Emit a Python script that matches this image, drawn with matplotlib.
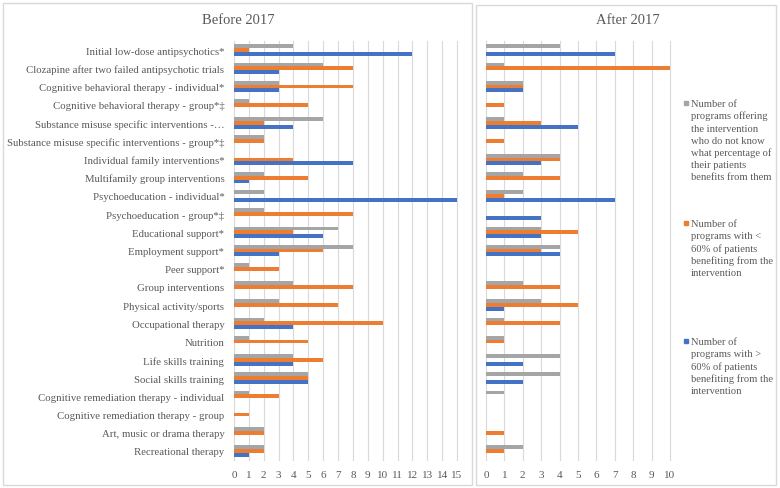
import matplotlib
matplotlib.use("Agg")
import matplotlib.pyplot as plt
from matplotlib.patches import Rectangle
import numpy as np

categories = [
    "Initial low-dose antipsychotics*",
    "Clozapine after two failed antipsychotic trials",
    "Cognitive behavioral therapy - individual*",
    "Cognitive behavioral therapy - group*\u2021",
    "Substance misuse specific interventions -\u2026",
    "Substance misuse specific interventions - group*\u2021",
    "Individual family interventions*",
    "Multifamily group interventions",
    "Psychoeducation - individual*",
    "Psychoeducation - group*\u2021",
    "Educational support*",
    "Employment support*",
    "Peer support*",
    "Group interventions",
    "Physical activity/sports",
    "Occupational therapy",
    "Nutrition",
    "Life skills training",
    "Social skills training",
    "Cognitive remediation therapy - individual",
    "Cognitive remediation therapy - group",
    "Art, music or drama therapy",
    "Recreational therapy",
]

# Before 2017
before_unknown = [4, 6, 3, 1, 6, 2, 0, 2, 2, 2, 7, 8, 1, 4, 3, 2, 1, 4, 5, 1, 0, 2, 2]
before_low     = [1, 8, 8, 5, 2, 2, 4, 5, 0, 8, 4, 6, 3, 8, 7, 10, 5, 6, 5, 3, 1, 2, 2]
before_high    = [12, 3, 3, 0, 4, 0, 8, 1, 15, 0, 6, 3, 0, 0, 0, 4, 0, 4, 5, 0, 0, 0, 1]

# After 2017
after_unknown = [4, 1, 2, 0, 1, 0, 4, 2, 2, 0, 3, 4, 0, 2, 3, 1, 1, 4, 4, 1, 0, 0, 2]
after_low     = [0, 10, 2, 1, 3, 1, 4, 4, 1, 0, 5, 3, 0, 4, 5, 4, 1, 0, 0, 0, 0, 1, 1]
after_high    = [7, 0, 2, 0, 5, 0, 3, 0, 7, 3, 3, 4, 0, 0, 1, 0, 0, 2, 2, 0, 0, 0, 0]

before_ticks = list(range(0, 16))
after_ticks = list(range(0, 11))

panel_titles = ["Before 2017", "After 2017"]
legend_labels = [
    "Number of\nprograms offering\nthe intervention\nwho do not know\nwhat percentage of\ntheir patients\nbenefits from them",
    "Number of\nprograms with <\n60% of patients\nbenefiting from the\nintervention",
    "Number of\nprograms with >\n60% of patients\nbenefiting from the\nintervention",
]

GRAY = "#A5A5A5"
ORANGE = "#ED7D31"
BLUE = "#4472C4"
TXT = "#595959"
GRID = "#D9D9D9"

plt.rcParams["font.family"] = ["Liberation Serif", "DejaVu Serif"]

W, H = 780, 489
fig = plt.figure(figsize=(W / 100, H / 100), dpi=100)

def fx(px):
    return px / W

def fy(py):
    return 1 - py / H

top_px, bot_px = 42, 461
axL = fig.add_axes([fx(234), fy(bot_px), fx(457 - 234), (bot_px - top_px) / H])
axR = fig.add_axes([fx(486), fy(bot_px), fx(670 - 486), (bot_px - top_px) / H])

y = np.arange(len(categories))
h = 0.21

def draw(ax, unk, low, high, ticks):
    ax.barh(y - h, unk, height=h, color=GRAY, zorder=3)
    ax.barh(y, low, height=h, color=ORANGE, zorder=3)
    ax.barh(y + h, high, height=h, color=BLUE, zorder=3)
    ax.set_ylim(len(categories) - 0.5, -0.5)
    ax.set_xlim(ticks[0], ticks[-1])
    ax.set_xticks(ticks)
    ax.set_xticklabels([str(t) for t in ticks])
    for t in ticks:
        ax.axvline(t, color=GRID, lw=0.8, zorder=1, clip_on=False)
    for s in ax.spines.values():
        s.set_visible(False)
    ax.tick_params(axis="x", length=0, pad=7, labelsize=8, labelcolor=TXT)
    ax.tick_params(axis="y", length=0, pad=7, labelsize=7.75, labelcolor=TXT)

draw(axL, before_unknown, before_low, before_high, before_ticks)
axL.set_yticks(y)
axL.set_yticklabels(categories)
draw(axR, after_unknown, after_low, after_high, after_ticks)
axR.set_yticks([])

# panel borders
fig.patches.append(Rectangle((fx(3), fy(486)), fx(472 - 3), (486 - 4) / H,
                             transform=fig.transFigure, fill=False, edgecolor=GRID, lw=1))
fig.patches.append(Rectangle((fx(476), fy(486)), fx(776 - 476), (486 - 6) / H,
                             transform=fig.transFigure, fill=False, edgecolor=GRID, lw=1))

fig.text(fx(238), fy(20), panel_titles[0], ha="center", va="center", fontsize=10.5, color=TXT)
fig.text(fx(628), fy(21), panel_titles[1], ha="center", va="center", fontsize=10.5, color=TXT)

# legend
leg_colors = [GRAY, ORANGE, BLUE]
leg_first = [104, 224, 342]
pitch = 12.2
for lab, col, c0 in zip(legend_labels, leg_colors, leg_first):
    fig.patches.append(Rectangle((fx(683.5), fy(c0 + 2.3)), fx(4.6), 4.6 / H,
                                 transform=fig.transFigure, color=col))
    for i, line in enumerate(lab.split("\n")):
        fig.text(fx(691), fy(c0 + i * pitch + 3.2), line, ha="left", va="baseline",
                 fontsize=7.6, color=TXT)

fig.savefig("out.png", dpi=100)
